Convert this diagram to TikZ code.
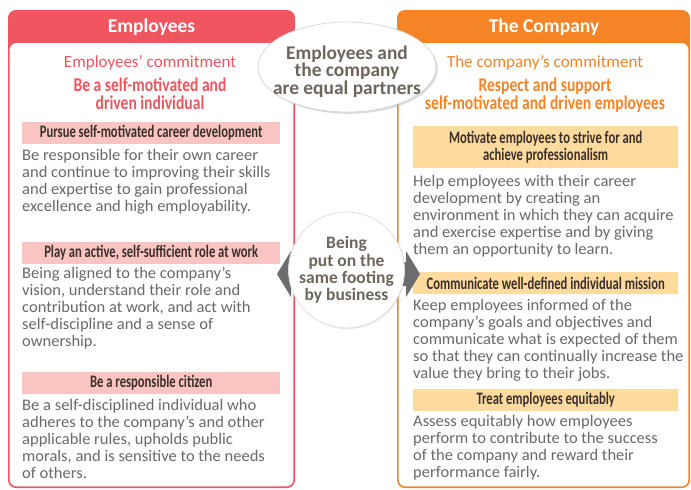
\documentclass[tikz,border=0pt]{standalone}
\usepackage{fontspec}
\setmainfont{Carlito}
\newfontfamily\condfont{Carlito}[FakeStretch=0.72]
\newfontfamily\mottofont{Carlito}[FakeStretch=0.8]
\newfontfamily\bodyfont{Carlito}[FakeStretch=1.02]
\usetikzlibrary{shapes.geometric,shadows}
\definecolor{empred}{HTML}{F0565F}
\definecolor{comporange}{HTML}{F58426}
\definecolor{pinkfill}{HTML}{F9C4C1}
\definecolor{orangefill}{HTML}{FDDA9E}
\definecolor{hdrtext}{HTML}{3B2F2B}
\definecolor{bodygray}{HTML}{69696B}
\definecolor{warmgray}{HTML}{6E655C}
\definecolor{arrowgray}{HTML}{6B6C6E}
\tikzset{
  bandtext/.style={text=white,font=\bfseries\fontsize{19.5}{21}\selectfont,inner sep=0},
  committext/.style={font=\fontsize{17}{19}\selectfont,inner sep=0,anchor=base},
  mottotext/.style={font=\mottofont\bfseries\fontsize{19.5}{18.5}\selectfont,inner sep=0,anchor=north,align=center},
  hdrbox/.style={anchor=north west,inner sep=0,text=hdrtext,font=\condfont\bfseries\fontsize{17.5}{17}\selectfont,align=center},
  lhdr/.style={hdrbox,fill=pinkfill,minimum width=258,minimum height=22},
  rhdr/.style={hdrbox,fill=orangefill,minimum width=265,minimum height=22},
  bodytext/.style={anchor=north west,inner sep=0,align=left,text=bodygray,font=\bodyfont\fontsize{16.2}{17}\selectfont},
  bubbletext/.style={text=warmgray,align=center,inner sep=0}
}
\begin{document}
\begin{tikzpicture}[x=1pt,y=-1pt]
\useasboundingbox (0,0) rectangle (691,490);
\fill[white] (0,0) rectangle (691,490);

% panels
\fill[empred,rounded corners=8] (8,10) rectangle (295,488);
\fill[white,rounded corners=7] (9.6,43) rectangle (293.4,486.4);
\fill[comporange,rounded corners=8] (397,10) rectangle (690,488);
\fill[white,rounded corners=7] (398.6,43) rectangle (688.4,486.4);

\node[bandtext] (lband) at (151.5,27.5) {Employees};
\node[bandtext] (rband) at (544,27.5) {The Company};

% left titles
\node[committext,text=empred] (lcommit) at (150,67) {Employees’ commitment};
\node[mottotext,text=empred] (lmotto) at (150,77.5) {Be a self-motivated and\\driven individual};
% right titles
\node[committext,text=comporange] (rcommit) at (545,67) {The company’s commitment};
\node[mottotext,text=comporange] (rmotto) at (545,77.5) {Respect and support\\self-motivated and driven employees};

% left sections
\node[lhdr] (lh1) at (22,122) {Pursue self-motivated career development};
\node[bodytext] (lb1) at (22,149.3) {Be responsible for their own career\\and continue to improving their skills\\and expertise to gain professional\\excellence and high employability.};
\node[lhdr] (lh2) at (22,242) {Play an active, self-sufficient role at work};
\node[bodytext] (lb2) at (22,267.3) {Being aligned to the company’s\\vision, understand their role and\\contribution at work, and act with\\self-discipline and a sense of\\ownership.};
\node[lhdr] (lh3) at (22,372) {Be a responsible citizen};
\node[bodytext] (lb3) at (22,399.3) {Be a self-disciplined individual who\\adheres to the company’s and other\\applicable rules, upholds public\\morals, and is sensitive to the needs\\of others.};

% right sections
\node[rhdr,minimum height=42] (rh1) at (413,126) {Motivate employees to strive for and\\achieve professionalism};
\node[bodytext] (rb1) at (413,175.5) {Help employees with their career\\development by creating an\\environment in which they can acquire\\and exercise expertise and by giving\\them an opportunity to learn.};
\node[rhdr] (rh2) at (413,272) {Communicate well-defined individual mission};
\node[bodytext] (rb2) at (413,299.5) {Keep employees informed of the\\company’s goals and objectives and\\communicate what is expected of them\\so that they can continually increase the\\value they bring to their jobs.};
\node[rhdr] (rh3) at (413,389) {Treat employees equitably};
\node[bodytext] (rb3) at (413,415.5) {Assess equitably how employees\\perform to contribute to the success\\of the company and reward their\\performance fairly.};

% double arrow behind the circle
\fill[arrowgray] (277,274) -- (291,251) -- (291,262) -- (406,262) -- (406,251) -- (420,274) -- (406,297) -- (406,286) -- (291,286) -- (291,297) -- cycle;

% centre circle
\node[circle,fill=white,draw=black!12,line width=0.8,minimum size=104,
      drop shadow={opacity=0.18,shadow xshift=1pt,shadow yshift=-1.2pt},
      bubbletext,font=\bfseries\fontsize{17.5}{17.3}\selectfont] (footing) at (346.5,270) {Being\\put on the\\same footing\\by business};

% top ellipse
\node[ellipse,fill=white,draw=black!15,line width=0.8,minimum width=178,minimum height=90,
      drop shadow={opacity=0.28,shadow xshift=1.8pt,shadow yshift=-1.8pt}] (partners) at (347,67) {};
\node[bubbletext,font=\bfseries\fontsize{19.4}{17.5}\selectfont] (partnerstext) at (347,71.5) {Employees and\\the company\\are equal partners};
\end{tikzpicture}
\end{document}
